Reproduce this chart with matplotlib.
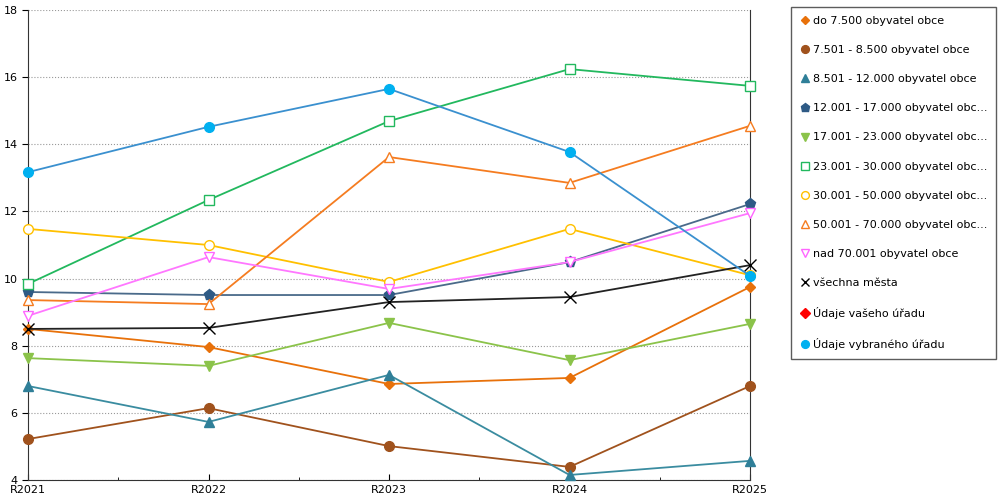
import matplotlib
matplotlib.use("Agg")
import matplotlib.pyplot as plt
from matplotlib.lines import Line2D

years = ["R2021", "R2022", "R2023", "R2024", "R2025"]
labels = ["do 7.500 obyvatel obce", "7.501 - 8.500 obyvatel obce", "8.501 - 12.000 obyvatel obce",
          "12.001 - 17.000 obyvatel obc...", "17.001 - 23.000 obyvatel obc...", "23.001 - 30.000 obyvatel obc...",
          "30.001 - 50.000 obyvatel obc...", "50.001 - 70.000 obyvatel obc...", "nad 70.001 obyvatel obce",
          "všechna města", "Údaje vašeho úřadu", "Údaje vybraného úřadu"]
s1 = [8.50, 7.96, 6.86, 7.04, 9.75]
s2 = [5.22, 6.14, 5.01, 4.39, 6.80]
s3 = [6.80, 5.73, 7.13, 4.15, 4.57]
s4 = [9.60, 9.51, 9.51, 10.49, 12.22]
s5 = [7.63, 7.40, 8.68, 7.57, 8.65]
s6 = [9.84, 12.34, 14.69, 16.24, 15.74]
s7 = [11.48, 11.00, 9.90, 11.48, 10.10]
s8 = [9.36, 9.24, 13.62, 12.85, 14.55]
s9 = [8.89, 10.64, 9.69, 10.49, 11.95]
s10 = [8.50, 8.53, 9.30, 9.45, 10.40]
s11 = []
s12 = [13.17, 14.52, 15.65, 13.77, 10.08]

styles = [
    (s1, "#e8710a", "#e8710a", "D", True, 5),
    (s2, "#a0521d", "#a0521d", "o", True, 7),
    (s3, "#3a8ca0", "#2f7f98", "^", True, 7),
    (s4, "#4a6a8a", "#2e5a85", "p", True, 8),
    (s5, "#8bc34a", "#8bc34a", "v", True, 7),
    (s6, "#22b85e", "#22b85e", "s", False, 7),
    (s7, "#ffc000", "#ffc000", "o", False, 7),
    (s8, "#f57c20", "#f57c20", "^", False, 7),
    (s9, "#ff77ff", "#ff66ff", "v", False, 7),
    (s10, "#222222", "#000000", "x", False, 8),
    (s11, "#ff0000", "#ff0000", "D", True, 6),
    (s12, "#3a90cf", "#00b0f0", "o", True, 7),
]

fig = plt.figure(figsize=(10, 5), dpi=100)
ax = fig.add_axes([0.028, 0.04, 0.722, 0.94])
x = list(range(len(years)))
handles = []
for (data, lc, mc, m, filled, ms), lab in zip(styles, labels):
    kw = dict(marker=m, markersize=ms, color=lc, markeredgecolor=mc,
              markerfacecolor=mc if filled else "white", linewidth=1.3)
    if data:
        ax.plot(x[:len(data)], data, clip_on=False, zorder=3, **kw)
    handles.append(Line2D([], [], linestyle="none", **kw))

ax.set_xlim(0, 4)
ax.set_ylim(4, 18)
ax.set_yticks(range(4, 19, 2))
ax.set_xticks(x)
ax.set_xticklabels(years)
ax.set_xticks([0.5, 1.5, 2.5, 3.5], minor=True)
ax.tick_params(labelsize=8, length=4)
ax.tick_params(axis="x", which="both", direction="in")
ax.yaxis.grid(True, linestyle=":", color="#999999", linewidth=0.8)
ax.spines["top"].set_visible(False)
ax.spines["right"].set_visible(True)
for sp in ax.spines.values():
    sp.set_color("#333333")
    sp.set_linewidth(0.8)

fig.legend(handles=handles, labels=labels, loc="upper left", bbox_to_anchor=(0.785, 0.997),
           fontsize=8, frameon=True, fancybox=False, edgecolor="#333333",
           handletextpad=0.2, labelspacing=1.72, borderpad=0.8, markerscale=0.8, handlelength=1)

fig.savefig("out.png", dpi=100)
